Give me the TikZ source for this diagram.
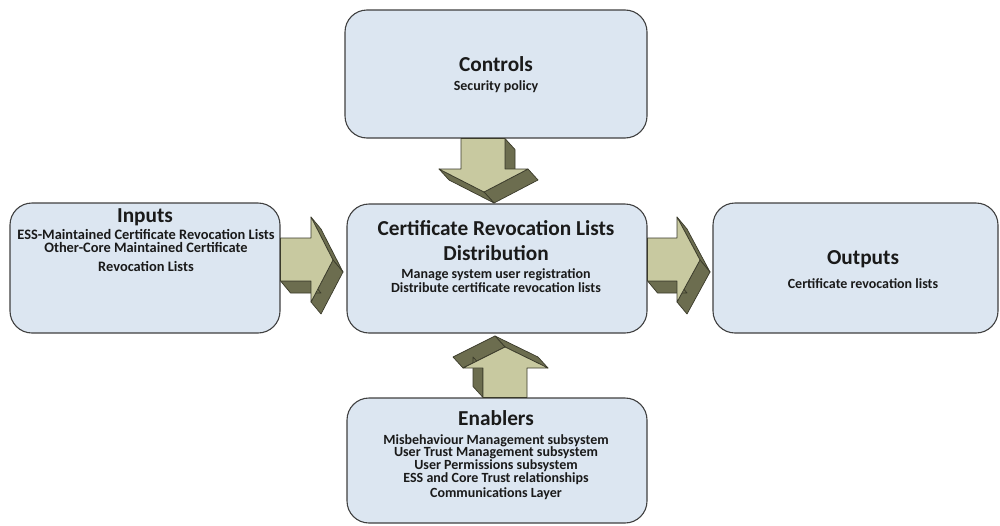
\documentclass[tikz,border=0pt]{standalone}
\usepackage{fontspec}
\setmainfont{Carlito}
\definecolor{boxfill}{HTML}{DCE6F1}
\definecolor{boxline}{HTML}{404040}
\definecolor{arrowface}{HTML}{C8C9A0}
\definecolor{arrowside}{HTML}{6C6D4F}
\definecolor{arrowline}{HTML}{3A3A2A}
\definecolor{ink}{HTML}{1A1A1A}
% one visible side wall of an extruded block arrow: edge #1--#2 pushed back by #3
\newcommand\arrowwall[3]{\draw[wall] (#1) -- (#2) -- ([shift={#3}]#2) -- ([shift={#3}]#1) -- cycle;}
\begin{document}
\begin{tikzpicture}[x=1pt,y=-1pt,
  panel/.style={draw=boxline, fill=boxfill, line width=1.1pt, rounded corners=22pt, inner sep=0pt},
  title/.style={font=\bfseries\fontsize{21.3}{25}\selectfont, text=ink, anchor=base, inner sep=0pt},
  detail/.style={font=\bfseries\fontsize{14}{14}\selectfont, text=ink, anchor=base, inner sep=0pt},
  widedetail/.style={detail, font=\bfseries\fontsize{14.4}{14}\selectfont},
  face/.style={fill=arrowface, draw=arrowline, line width=0.7pt, line join=round},
  wall/.style={fill=arrowside, draw=arrowline, line width=0.7pt, line join=round}]
\useasboundingbox (0,0) rectangle (1000,525);

% ---- boxes ----
\node[panel, minimum width=302pt, minimum height=128pt] (controls) at (496,74) {};
\node[panel, minimum width=270pt, minimum height=130pt] (inputs) at (145,268) {};
\node[panel, minimum width=300pt, minimum height=129pt] (centre) at (497,268.5) {};
\node[panel, minimum width=285pt, minimum height=130pt] (outputs) at (855.5,268) {};
\node[panel, minimum width=300pt, minimum height=125pt] (enablers) at (497,460.5) {};

% ---- texts ----
\node[title] (ctl-t) at (496,71) {Controls};
\node[detail] (ctl-1) at (496,90) {Security policy};

\node[title] (in-t) at (145,222) {Inputs};
\node[widedetail] (in-1) at (146,239) {ESS-Maintained Certificate Revocation Lists};
\node[widedetail] (in-2) at (146,252.5) {Other-Core Maintained Certificate};
\node[widedetail] (in-3) at (146,271) {Revocation Lists};

\node[title] (ce-t1) at (496,235) {Certificate Revocation Lists};
\node[title] (ce-t2) at (496,260) {Distribution};
\node[detail] (ce-1) at (496,278) {Manage system user registration};
\node[detail] (ce-2) at (496,292) {Distribute certificate revocation lists};

\node[title] (out-t) at (863,264) {Outputs};
\node[detail] (out-1) at (863,288) {Certificate revocation lists};

\node[title] (en-t) at (496,425) {Enablers};
\node[detail] (en-1) at (496,444) {Misbehaviour Management subsystem};
\node[detail] (en-2) at (496,456.5) {User Trust Management subsystem};
\node[detail] (en-3) at (496,469.5) {User Permissions subsystem};
\node[detail] (en-4) at (496,482.5) {ESS and Core Trust relationships};
\node[detail] (en-5) at (496,497.5) {Communications Layer};

% ---- block arrow: inputs -> centre ----
\coordinate (i1) at (inputs.east |- 0,238);
\coordinate (i2) at (311,238);
\coordinate (i3) at (311,217);
\coordinate (i4) at (333,260);
\coordinate (i5) at (311,302);
\coordinate (i6) at (311,281);
\coordinate (i7) at (inputs.east |- 0,281);
\arrowwall{i3}{i4}{(10,12)}
\arrowwall{i4}{i5}{(10,12)}
\arrowwall{i6}{i7}{(10,12)}
\draw[face] (i1) -- (i2) -- (i3) -- (i4) -- (i5) -- (i6) -- (i7) -- cycle;

% ---- block arrow: centre -> outputs ----
\coordinate (o1) at (centre.east |- 0,238);
\coordinate (o2) at (677,238);
\coordinate (o3) at (677,217);
\coordinate (o4) at (700,260);
\coordinate (o5) at (677,302);
\coordinate (o6) at (677,281);
\coordinate (o7) at (centre.east |- 0,281);
\arrowwall{o3}{o4}{(10,12)}
\arrowwall{o4}{o5}{(10,12)}
\arrowwall{o6}{o7}{(10,12)}
\draw[face] (o1) -- (o2) -- (o3) -- (o4) -- (o5) -- (o6) -- (o7) -- cycle;

% ---- block arrow: controls -> centre ----
\coordinate (d1) at (461,0 |- controls.south);
\coordinate (d2) at (505,0 |- controls.south);
\coordinate (d3) at (505,169);
\coordinate (d4) at (528,169);
\coordinate (d5) at (484,192);
\coordinate (d6) at (439,169);
\coordinate (d7) at (461,169);
\arrowwall{d2}{d3}{(10,11)}
\arrowwall{d4}{d5}{(10,11)}
\arrowwall{d5}{d6}{(10,11)}
\draw[face] (d1) -- (d2) -- (d3) -- (d4) -- (d5) -- (d6) -- (d7) -- cycle;

% ---- block arrow: enablers -> centre ----
\coordinate (u1) at (483,0 |- enablers.north);
\coordinate (u2) at (527,0 |- enablers.north);
\coordinate (u3) at (527,368);
\coordinate (u4) at (548,368);
\coordinate (u5) at (505,347);
\coordinate (u6) at (463,368);
\coordinate (u7) at (483,368);
\arrowwall{u4}{u5}{(-10,-11)}
\arrowwall{u5}{u6}{(-10,-11)}
\arrowwall{u7}{u1}{(-10,-11)}
\draw[face] (u1) -- (u2) -- (u3) -- (u4) -- (u5) -- (u6) -- (u7) -- cycle;
\end{tikzpicture}
\end{document}
